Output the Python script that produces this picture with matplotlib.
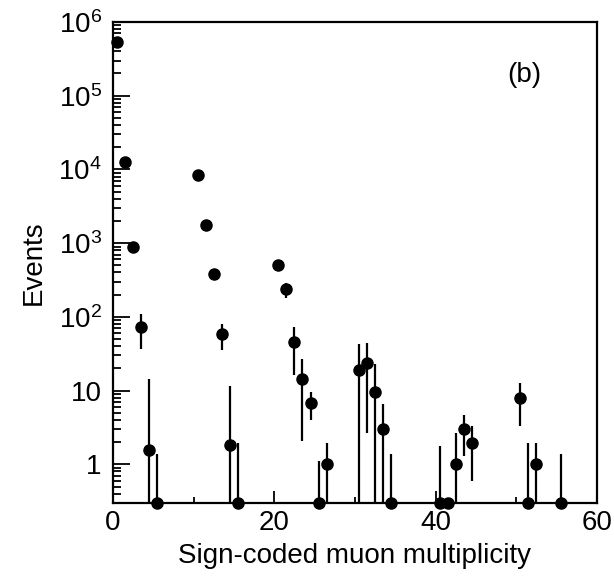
import numpy as np
import matplotlib
matplotlib.use('Agg')
import matplotlib.pyplot as plt
from matplotlib.ticker import FixedLocator, LogLocator, NullFormatter

plt.rcParams['font.family'] = ['Liberation Sans', 'DejaVu Sans']
plt.rcParams['mathtext.fontset'] = 'custom'
plt.rcParams['mathtext.rm'] = 'Liberation Sans'
plt.rcParams['mathtext.it'] = 'Liberation Sans'

# bin centres of the sign-coded muon multiplicity
multiplicity = [0.5, 1.5, 2.5, 3.5, 4.5, 5.5,
                10.5, 11.5, 12.5, 13.5, 14.5, 15.5,
                20.5, 21.5, 22.5, 23.5, 24.5, 25.5, 26.5,
                30.5, 31.5, 32.5, 33.5, 34.5,
                40.5, 41.5, 42.5, 43.5, 44.5,
                50.5, 51.5, 52.5, 55.5]

# events per bin (0 = empty bin, drawn on the lower edge)
events = [5.4e5, 1.25e4, 880, 73.5, 1.58, 0,
          8400, 1770, 384, 57.7, 1.81, 0,
          503, 237, 45.4, 14.5, 6.86, 0, 1.0,
          19.0, 23.9, 9.55, 2.98, 0,
          0, 0, 1.0, 2.98, 1.97,
          8.0, 0, 1.0, 0]

# lower / upper end of the error bars
err_low = [5.4e5, 1.25e4, 880, 37, 0, 0,
           8400, 1770, 384, 35.4, 0, 0,
           503, 181, 16.1, 2.07, 3.95, 0, 0,
           0, 2.69, 0, 0, 0,
           0, 0, 0, 1.29, 0.594,
           3.3, 0, 0, 0]
err_high = [5.4e5, 1.25e4, 880, 108, 14.2, 1.4,
            8400, 1770, 384, 79, 11.5, 1.97,
            503, 290, 73.5, 26.5, 9.67, 1.11, 1.97,
            43.2, 43.6, 22.6, 6.5, 1.4,
            1.77, 0, 2.69, 4.61, 3.3,
            12.5, 1.97, 1.97, 1.4]

ymin, ymax = 0.3, 1e6

x = np.array(multiplicity)
y = np.array(events, dtype=float)
lo = np.array(err_low, dtype=float)
hi = np.array(err_high, dtype=float)

y_draw = np.where(y > 0, y, ymin)
lo_draw = np.maximum(lo, ymin)
hi_draw = np.maximum(hi, ymin)

fig = plt.figure(figsize=(6.14, 5.78), dpi=100)
ax = fig.add_axes([0.184, 0.130, 0.788, 0.832])

ax.vlines(x, lo_draw, hi_draw, colors='black', linewidth=1.6)
ax.plot(x, y_draw, 'o', color='black', markersize=8, clip_on=False, zorder=3)

ax.set_yscale('log')
ax.set_xlim(0, 60)
ax.set_ylim(ymin, ymax)

ax.xaxis.set_major_locator(FixedLocator([0, 20, 40, 60]))
ax.xaxis.set_minor_locator(FixedLocator([10, 30, 50]))
ax.yaxis.set_minor_locator(LogLocator(base=10, subs=np.arange(2, 10), numticks=20))
ax.yaxis.set_minor_formatter(NullFormatter())
ax.set_yticks([1, 10, 100, 1e3, 1e4, 1e5, 1e6])
ax.set_yticklabels(['1', '10', r'$10^2$', r'$10^3$', r'$10^4$', r'$10^5$', r'$10^6$'])

ax.tick_params(axis='both', which='both', direction='in', top=False, right=False,
               labelsize=20, width=1.3)
ax.tick_params(axis='y', which='major', length=12, pad=8)
ax.tick_params(axis='y', which='minor', length=6)
ax.tick_params(axis='x', which='major', length=9, pad=5)
ax.tick_params(axis='x', which='minor', length=4)

for s in ax.spines.values():
    s.set_linewidth(1.6)

ax.set_xlabel('Sign-coded muon multiplicity', fontsize=20, labelpad=5)
ax.set_ylabel('Events', fontsize=20, labelpad=8)
ax.text(0.85, 0.89, '(b)', transform=ax.transAxes, fontsize=20, ha='center', va='center')

fig.savefig('out.png', dpi=100)
